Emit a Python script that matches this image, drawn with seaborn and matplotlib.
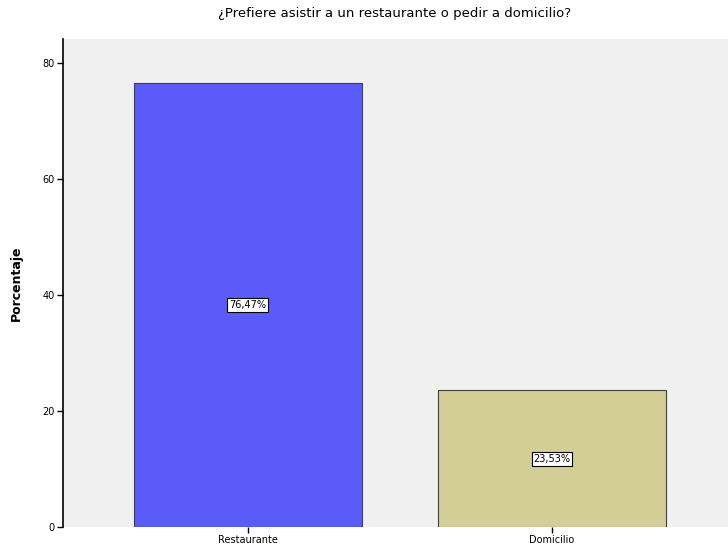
import matplotlib
matplotlib.use("Agg")
import matplotlib.pyplot as plt
import pandas as pd
import seaborn as sns

categories = ["Restaurante", "Domicilio"]
percentages = [76.47, 23.53]
value_labels = ["76,47%", "23,53%"]
y_ticks = [0, 20, 40, 60, 80]
bar_colors = ["#5a5cfa", "#d2ce96"]

df = pd.DataFrame({"categoria": categories, "porcentaje": percentages})

sns.set_theme(style="white")
plt.rcParams["font.family"] = ["DejaVu Sans"]
plt.rcParams["text.color"] = "black"
plt.rcParams["xtick.color"] = "black"
plt.rcParams["ytick.color"] = "black"

W, H = 728, 551
fig = plt.figure(figsize=(W / 100, H / 100), dpi=100)
ax = fig.add_axes([63 / W, 1 - 527 / H, (W - 63) / W, (527 - 39) / H])
ax.set_facecolor("#f0f0f0")

sns.barplot(data=df, x="categoria", y="porcentaje", hue="categoria",
            palette=bar_colors, saturation=1, width=0.75, edgecolor="#404040",
            linewidth=0.8, legend=False, ax=ax)

ax.set_xlim(-0.608, 1 + (W - 552) / 304)
ax.set_ylim(0, 84.1)
ax.set_yticks(y_ticks)
ax.set_yticklabels([str(t) for t in y_ticks], fontsize=7)
ax.tick_params(axis="x", labelsize=7, length=4, width=1, color="black", bottom=True, pad=2)
ax.tick_params(axis="y", length=4, width=1, color="black", left=True, pad=2)

for side in ["top", "right", "bottom"]:
    ax.spines[side].set_visible(False)
ax.spines["left"].set_color("black")
ax.spines["left"].set_linewidth(1.2)

ax.set_xlabel("")
ax.set_ylabel("Porcentaje", fontsize=9, fontweight="bold", labelpad=14, color="black")

for i, (val, lab) in enumerate(zip(percentages, value_labels)):
    ax.text(i, val / 2, lab, ha="center", va="center", fontsize=7, color="black",
            bbox=dict(boxstyle="square,pad=0.2", facecolor="white",
                      edgecolor="black", linewidth=0.8))

fig.text(395 / W, 1 - 14 / H, "¿Prefiere asistir a un restaurante o pedir a domicilio?",
         ha="center", va="center", fontsize=9.5, color="black")

fig.savefig("out.png", dpi=100, facecolor="white")
